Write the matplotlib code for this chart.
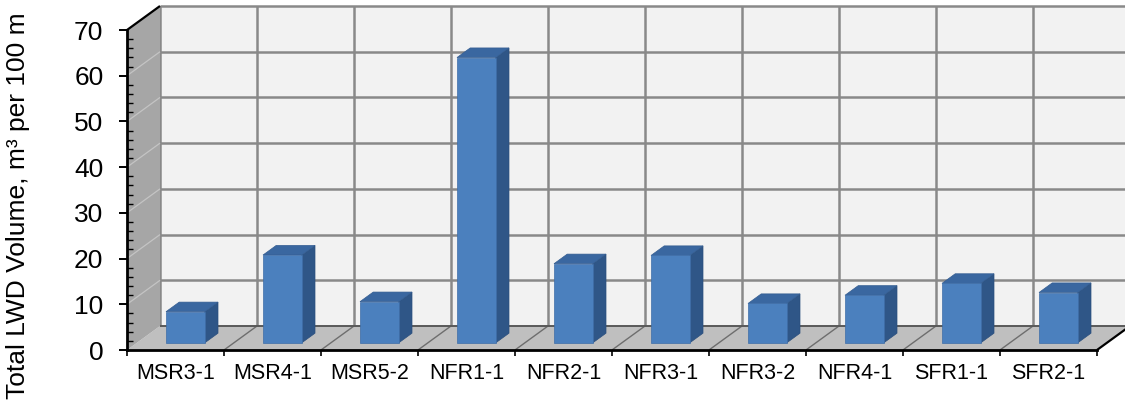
import numpy as np
import matplotlib
matplotlib.use("Agg")
import matplotlib.pyplot as plt
import matplotlib.transforms as mtransforms
from matplotlib.patches import Polygon, Rectangle
from matplotlib.ticker import MultipleLocator

plt.rcParams['font.family'] = ['Liberation Sans', 'DejaVu Sans']

# data
sites = ["MSR3-1", "MSR4-1", "MSR5-2", "NFR1-1", "NFR2-1",
         "NFR3-1", "NFR3-2", "NFR4-1", "SFR1-1", "SFR2-1"]
lwd_volume = [6.8, 19.2, 9.0, 62.4, 17.3, 19.1, 8.6, 10.4, 13.0, 11.0]
y_ticks = [0, 10, 20, 30, 40, 50, 60, 70]

DPI = 100
fig = plt.figure(figsize=(11.25, 4.15), dpi=DPI)
ax = fig.add_axes([127 / 1125, 65 / 415, 970 / 1125, 320 / 415])
ax.set_xlim(0, len(sites))
ax.set_ylim(0, 70)
ax.patch.set_visible(False)

# depth of the 3d box in pixels (to the right and up)
depth = np.array([33.0, 24.0])
ident = mtransforms.IdentityTransform()
back_tr = ax.transData + mtransforms.ScaledTranslation(
    depth[0] / DPI, depth[1] / DPI, fig.dpi_scale_trans)


def P(x, v, d):
    # project a (category, value, depth) point to display pixels
    return ax.transData.transform((x, v)) + d * depth


def poly(pts, **kw):
    p = Polygon(pts, closed=True, transform=ident, clip_on=False, **kw)
    ax.add_patch(p)


def seg(p0, p1, **kw):
    ax.plot([p0[0], p1[0]], [p0[1], p1[1]], transform=ident, clip_on=False,
            solid_capstyle="butt", **kw)


n = len(sites)

# back wall with grid
ax.add_patch(Rectangle((0, 0), n, 70, transform=back_tr, facecolor="#f2f2f2",
                       edgecolor="none", clip_on=False, zorder=0.5))
ax.hlines(y_ticks[1:], 0, n, transform=back_tr, colors="#898989", lw=1.8,
          clip_on=False, zorder=0.6)
ax.vlines(range(n + 1), 0, 70, transform=back_tr, colors="#898989", lw=1.8,
          clip_on=False, zorder=0.6)

# floor
poly([P(0, 0, 0), P(n, 0, 0), P(n, 0, 1), P(0, 0, 1)],
     facecolor="#bfbfbf", edgecolor="none", zorder=0.7)
for k in range(1, n):
    seg(P(k, 0, 0), P(k, 0, 1), color="#6e6e6e", lw=1.0, zorder=0.8)
seg(P(0, 0, 1), P(n, 0, 1), color="#595959", lw=1.4, zorder=0.8)
seg(P(n, 0, 0), P(n, 0, 1), color="black", lw=1.6, zorder=0.8)

# left side wall
poly([P(0, 0, 0), P(0, 70, 0), P(0, 70, 1), P(0, 0, 1)],
     facecolor="#a6a6a6", edgecolor="none", zorder=0.9)
for v in y_ticks[1:-1]:
    seg(P(0, v, 0), P(0, v, 1), color="#c4c4c4", lw=0.9, zorder=1.0)
seg(P(0, 70, 0), P(0, 70, 1), color="black", lw=1.6, zorder=1.0)

# 3d columns
d1, d2 = 0.3, 0.7
for i, v in enumerate(lwd_volume):
    x0, x1 = i + 0.3, i + 0.7
    poly([P(x1, 0, d1), P(x1, v, d1), P(x1, v, d2), P(x1, 0, d2)],
         facecolor="#2f5687", edgecolor="#2b4f7d", lw=0.5, zorder=2)
    poly([P(x0, v, d1), P(x1, v, d1), P(x1, v, d2), P(x0, v, d2)],
         facecolor="#3a67a0", edgecolor="#345d91", lw=0.5, zorder=2)
    poly([P(x0, 0, d1), P(x1, 0, d1), P(x1, v, d1), P(x0, v, d1)],
         facecolor="#4b80be", edgecolor="#3f6ea8", lw=0.5, zorder=2.1)

# axes
for s in ["top", "right"]:
    ax.spines[s].set_visible(False)
for s in ["left", "bottom"]:
    ax.spines[s].set_linewidth(2)
    ax.spines[s].set_zorder(3)

ax.set_yticks(y_ticks)
ax.yaxis.set_minor_locator(MultipleLocator(2))
ax.tick_params(axis="y", which="major", direction="out", length=6, width=1.4,
               labelsize=19, pad=11)
ax.tick_params(axis="y", which="minor", direction="in", length=4, width=1.0)

ax.set_xticks(range(n + 1))
ax.set_xticklabels([])
ax.set_xticks(np.arange(n) + 0.5, minor=True)
ax.set_xticklabels(sites, minor=True)
ax.tick_params(axis="x", which="major", direction="out", length=4, width=1.2)
ax.tick_params(axis="x", which="minor", length=0, labelsize=15.5, pad=9)

fig.text(18 / 1125, 1 - 206 / 415, "Total LWD Volume, m\u00b3 per 100 m",
         rotation=90, ha="center", va="center", fontsize=19)

fig.savefig("out.png", dpi=DPI)
